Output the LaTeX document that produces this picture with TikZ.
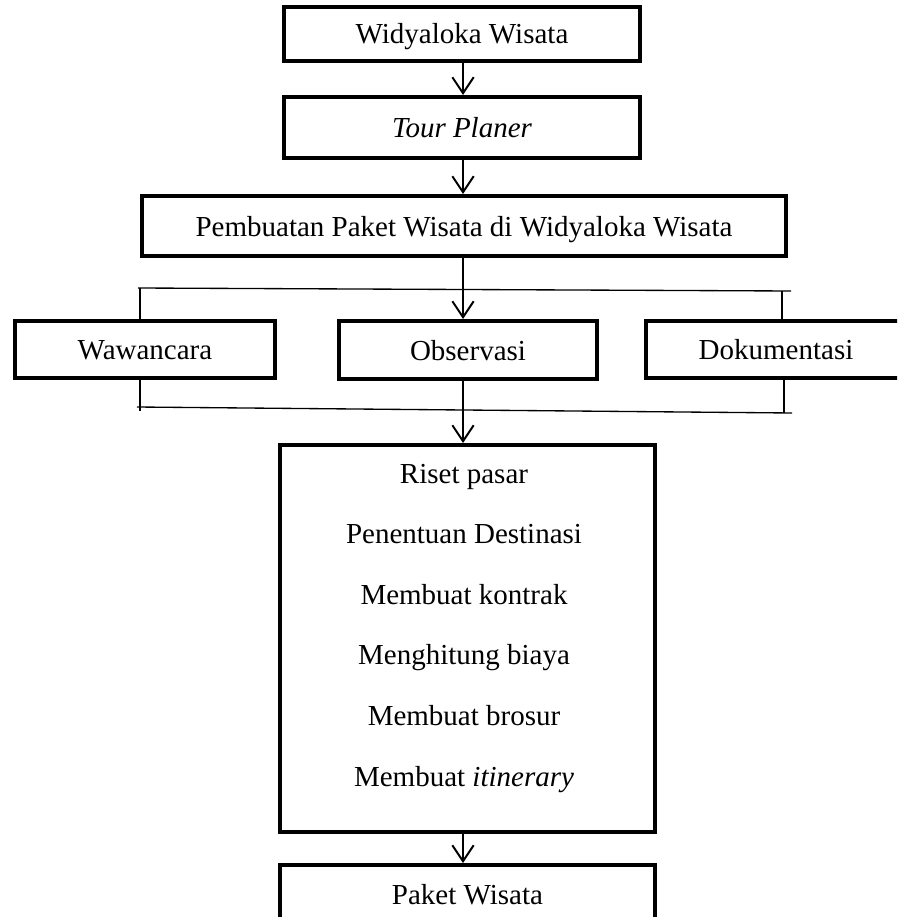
\documentclass[tikz,border=0pt]{standalone}
\usepackage{fontspec}
\setmainfont{Liberation Serif}
\usetikzlibrary{arrows.meta}
\begin{document}
\begin{tikzpicture}[x=0.75pt,y=-0.75pt,
  txt/.style={font=\fontsize{21.75pt}{26pt}\selectfont},
  box/.style={draw, line width=3pt, inner sep=0pt, text height=18pt, text depth=3pt, txt},
  arr/.style={line width=1.5pt, -{Straight Barb[length=12pt,width=16pt]}},
  thinline/.style={line width=1pt},
  lbl/.style={inner sep=0pt, anchor=base, txt}]
\useasboundingbox (0,0) rectangle (897,917);
\clip (0,0) rectangle (897,917);
% boxes
\node[box, minimum width=267pt, minimum height=40.5pt] (b1) at (462,34) {Widyaloka Wisata};
\node[box, minimum width=267pt, minimum height=45.75pt] (b2) at (462,127.5) {\itshape Tour Planer};
\node[box, minimum width=483pt, minimum height=45pt] (b3) at (464,226) {Pembuatan Paket Wisata di Widyaloka Wisata};
\node[box, minimum width=195pt, minimum height=42.75pt] (wa) at (145,349.5) {Wawancara};
\node[box, minimum width=193.5pt, minimum height=43.5pt] (ob) at (468,350) {Observasi};
\node[box, minimum width=195pt, minimum height=42.75pt] (dk) at (776,349.5) {Dokumentasi};
\node[box, minimum width=281.25pt, minimum height=290.25pt] (big) at (467.5,638.5) {};
\node[box, minimum width=281.25pt, minimum height=43.5pt] (pk) at (467.5,894) {Paket Wisata};
% lines inside the big box
\node[lbl] (l1) at (464,483) {Riset pasar};
\node[lbl] (l2) at (464,543.6) {Penentuan Destinasi};
\node[lbl] (l3) at (464,604.2) {Membuat kontrak};
\node[lbl] (l4) at (464,664.8) {Menghitung biaya};
\node[lbl] (l5) at (464,725.4) {Membuat brosur};
\node[lbl] (l6) at (464,786) {Membuat \textit{itinerary}};
% arrow axis
\coordinate (ax) at (463,0);
\draw[arr] (b1.south -| ax) -- (b2.north -| ax);
\draw[arr] (b2.south -| ax) -- (b3.north -| ax);
\draw[arr] (b3.south -| ax) -- (ob.north -| ax);
\draw[arr] (ob.south -| ax) -- (big.north -| ax);
\draw[arr] (big.south -| ax) -- (pk.north -| ax);
% brackets
\coordinate (ul) at (138,288);
\coordinate (ur) at (791,291);
\coordinate (tl) at (140,288);
\coordinate (tr) at (782,290.8);
\coordinate (ll) at (137,407);
\coordinate (lr) at (792,413);
\coordinate (bl) at (140,411);
\coordinate (br) at (784,413);
\draw[thinline] (ul) -- (ur);
\draw[thinline] (tl) -- (wa.north -| tl);
\draw[thinline] (tr) -- (dk.north -| tr);
\draw[thinline] (ll) -- (lr);
\draw[thinline] (wa.south -| bl) -- (bl);
\draw[thinline] (dk.south -| br) -- (br);
\end{tikzpicture}
\end{document}
